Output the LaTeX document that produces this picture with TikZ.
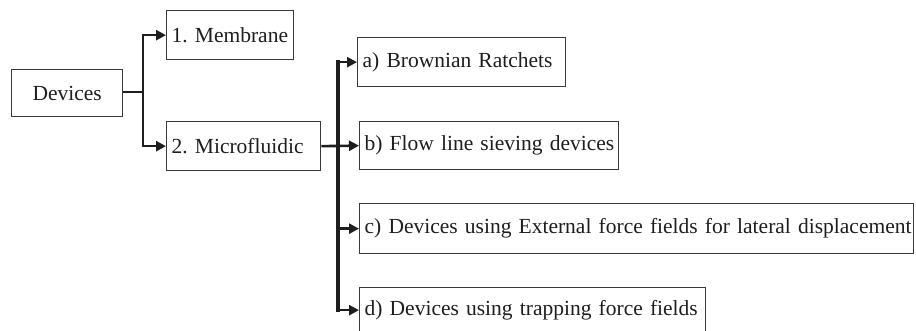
\documentclass[tikz,border=0pt]{standalone}
\usepackage{fontspec}
\setmainfont{Liberation Serif}
\usetikzlibrary{arrows.meta}
\definecolor{ink}{HTML}{1E1E1E}
\definecolor{edge}{HTML}{3A3A3A}
\tikzset{
  box/.style={draw=edge, line width=1.3pt, anchor=north west, inner xsep=5pt, inner ysep=0pt,
    text=ink, font=\fontsize{21.5}{26}\selectfont\frenchspacing, align=left},
  conn/.style={draw=ink, line width=2.6pt, -{Triangle[length=10pt,width=10pt]}},
  plain/.style={draw=ink, line width=2.6pt},
  trunkline/.style={draw=ink, line width=3.4pt, line cap=rect}
}
\begin{document}
\begin{tikzpicture}[x=1pt,y=-1pt]
\useasboundingbox (0,0) rectangle (916,330);
% boxes
\node[box, minimum width=111pt, minimum height=47pt, align=center, text width=101pt] (dev) at (11,69) {\mbox{Devices}};
\node[box, minimum width=127pt, minimum height=49pt, text width=117pt] (mem) at (166,10) {\mbox{1. Membrane}};
\node[box, minimum width=154pt, minimum height=49pt, text width=144pt] (mic) at (166,121) {\mbox{2. Microfluidic}};
\node[box, minimum width=208pt, minimum height=49pt, text width=198pt] (ba) at (357,37) {\mbox{a) Brownian Ratchets}};
\node[box, minimum width=259pt, minimum height=48pt, text width=249pt] (bb) at (359,121) {\mbox{b) Flow line sieving devices}};
\node[box, minimum width=554pt, minimum height=50pt, text width=544pt] (bc) at (359,203) {\mbox{c) Devices using External force fields for lateral displacement}};
\node[box, minimum width=346pt, minimum height=45pt, text width=336pt] (bd) at (359,287) {\mbox{d) Devices using trapping force fields}};
% first level connectors
\coordinate (j1) at (143,92);
\draw[plain] (dev.east |- j1) -- (j1);
\draw[conn] (j1) |- (mem.west);
\draw[conn] (j1) |- (mic.west);
% second level connectors
\coordinate (tx) at (338,0);
\draw[trunkline] (tx |- ba.west) -- (tx |- bd.west);
\draw[conn] (mic.east) -- (bb.west);
\draw[conn] (tx |- ba.west) -- (ba.west);
\draw[conn] (tx |- bc.west) -- (bc.west);
\draw[conn] (tx |- bd.west) -- (bd.west);
\end{tikzpicture}
\end{document}
